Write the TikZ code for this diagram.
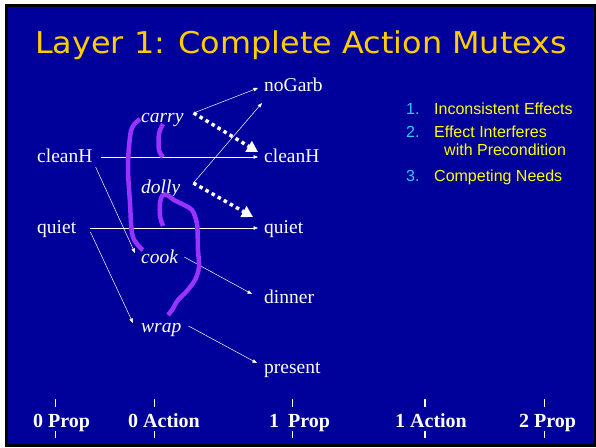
\documentclass[tikz,border=0pt]{standalone}
\usepackage{fontspec}
\usepackage{graphicx}
\setmainfont{Liberation Serif}
\newfontfamily\titlefont{DejaVu Sans}
\newfontfamily\listfont{Liberation Sans}
\usetikzlibrary{arrows.meta}
\definecolor{bgblue}{RGB}{0,0,155}
\definecolor{titlegold}{RGB}{255,204,0}
\definecolor{listcyan}{RGB}{51,204,255}
\definecolor{listyellow}{RGB}{255,255,0}
\definecolor{mutexpurple}{RGB}{153,51,255}
\begin{document}
\begin{tikzpicture}[x=1pt,y=-1pt,
  lbl/.style={text=white, inner sep=0pt, anchor=base west, font=\fontsize{19.5}{22}\selectfont},
  act/.style={text=white, inner sep=0pt, anchor=base west, font=\fontsize{19.5}{22}\selectfont\itshape},
  axislbl/.style={text=white, inner sep=0pt, anchor=base west, font=\fontsize{20}{22}\selectfont\bfseries},
  listnum/.style={text=listcyan, inner sep=0pt, anchor=base west, font=\listfont\fontsize{16}{18}\selectfont},
  listtxt/.style={text=listyellow, inner sep=0pt, anchor=base west, font=\listfont\fontsize{16}{18}\selectfont},
  thinarrow/.style={white, line width=0.5pt, -{Triangle[length=4.5pt,width=3.5pt]}},
  dotarrow/.style={white, line width=3.5pt, dash pattern=on 3.5pt off 3.5pt, -{Triangle[length=11pt,width=12pt]}},
  mutex/.style={mutexpurple, line width=4.5pt, line join=round},
  tick/.style={white, line width=1.5pt}
]
\useasboundingbox (0,0) rectangle (596,447);
\fill[white] (0,0) rectangle (596,447);
\fill[black] (5,4) rectangle (596,447);
\fill[bgblue] (8,7) rectangle (594,444);

% title
\node[anchor=base west, inner sep=0pt, text=titlegold, font=\titlefont\fontsize{30}{34}\selectfont] (title) at (35,53)
  {\resizebox{532pt}{\height}{Layer 1: Complete Action Mutexs}};

% nodes
\node[lbl] (noGarb) at (264,91) {noGarb};
\node[act] (carry) at (141,122) {carry};
\node[lbl] (cleanHL) at (37,162) {cleanH};
\node[lbl] (cleanHR) at (264,162) {cleanH};
\node[act] (dolly) at (141,193) {dolly};
\node[lbl] (quietL) at (37,233) {quiet};
\node[lbl] (quietR) at (264,233) {quiet};
\node[act] (cook) at (141,263) {cook};
\node[lbl] (dinner) at (264,303) {dinner};
\node[act] (wrap) at (141,332) {wrap};
\node[lbl] (present) at (264,373) {present};

\coordinate (carryout) at ([shift={(10,-9)}]carry.base east);
\coordinate (dollyout) at ([shift={(13,-10)}]dolly.base east);

% thin arrows
\draw[thinarrow] (carryout) -- ([shift={(-6,-3)}]noGarb.base west);
\draw[thinarrow] (dollyout) -- ([shift={(-2,12)}]noGarb.base west);
\draw[thinarrow] ([shift={(8,-5)}]cleanHL.base east) -- ([shift={(-6,-5)}]cleanHR.base west);
\draw[thinarrow] ([shift={(3,5)}]cleanHL.base east) -- ([shift={(-6,-10)}]cook.base west);
\draw[thinarrow] ([shift={(14,-5)}]quietL.base east) -- ([shift={(-6,-5)}]quietR.base west);
\draw[thinarrow] ([shift={(14,-1)}]quietL.base east) -- ([shift={(-8,-9)}]wrap.base west);
\draw[thinarrow] ([shift={(6,-6)}]cook.base east) -- ([shift={(-12,-9)}]dinner.base west);
\draw[thinarrow] ([shift={(7,-6)}]wrap.base east) -- ([shift={(-7,-10)}]present.base west);

% dotted arrows
\draw[dotarrow] (carryout) -- ([shift={(-6,-10)}]cleanHR.base west);
\draw[dotarrow] (dollyout) -- ([shift={(-11,-16)}]quietR.base west);

% mutex marks
\draw[mutex] plot[smooth, tension=0.6] coordinates {(140,119) (133,126) (130,137) (128,167) (130,203) (132,233) (137,244) (143,250)};
\draw[mutex] plot[smooth, tension=0.6] coordinates {(163,124) (159,134) (159,150) (163,157)};
\draw[mutex] plot[smooth, tension=0.5] coordinates {(163,226) (160,216) (160,203) (162,196) (167,195) (174,200) (184,205) (192,210) (197,224) (198,250) (199,267) (195,280) (186,292) (178,300) (172,310) (168,315)};

% list
\node[listnum] (n1) at (406,114) {1.};
\node[listtxt] (t1) at (434,114) {Inconsistent Effects};
\node[listnum] (n2) at (406,137) {2.};
\node[listtxt] (t2) at (434,137) {Effect Interferes};
\node[listtxt] (t2b) at (444,155) {with Precondition};
\node[listnum] (n3) at (406,181) {3.};
\node[listtxt] (t3) at (434,181) {Competing Needs};

% axis
\node[axislbl] (ax0) at (33,427) {0 Prop};
\node[axislbl] (ax1) at (128,427) {0 Action};
\node[axislbl] (ax2) at (269,427) {1\hspace{4pt} Prop};
\node[axislbl] (ax3) at (395,427) {1 Action};
\node[axislbl] (ax4) at (519,427) {2 Prop};
\foreach \tx in {55.7,154.7,292.7,425,544.5}{
  \draw[tick] (\tx,399) -- (\tx,407);
  \draw[tick] (\tx,431) -- (\tx,438);
}
\end{tikzpicture}
\end{document}
